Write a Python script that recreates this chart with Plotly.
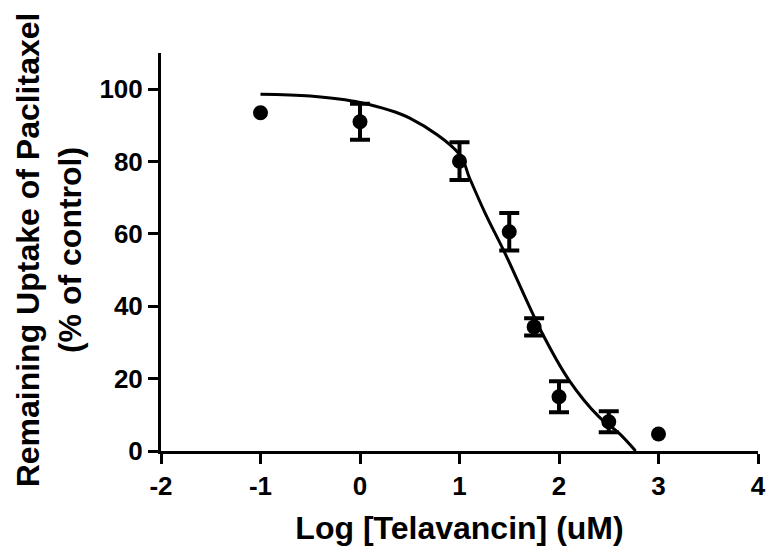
import plotly.graph_objects as go

# Data
log_conc = [-1.0, 0.0, 1.0, 1.5, 1.75, 2.0, 2.5, 3.0]
uptake = [93.5, 91.0, 80.1, 60.6, 34.3, 15.0, 8.1, 4.7]
sem = [None, 5.0, 5.2, 5.2, 2.4, 4.3, 2.9, None]

# Fitted curve, points
curve_x = [-1.0, -0.5, 0.0, 0.5, 1.0, 1.1, 1.26, 1.46, 1.83, 2.1, 2.4, 2.6, 2.77]
curve_y = [98.6, 98.1, 96.3, 92.0, 82.0, 75.5, 65.6, 54.5, 32.6, 19.6, 9.5, 5.0, 0.0]

x_ticks = [-2, -1, 0, 1, 2, 3, 4]
y_ticks = [0, 20, 40, 60, 80, 100]

FONT = "Arial, Liberation Sans, sans-serif"

ex = [x for x, e in zip(log_conc, sem) if e is not None]
ey = [y for y, e in zip(uptake, sem) if e is not None]
ee = [e for e in sem if e is not None]
nx = [x for x, e in zip(log_conc, sem) if e is None]
ny = [y for y, e in zip(uptake, sem) if e is None]

fig = go.Figure()
fig.add_trace(go.Scatter(x=curve_x, y=curve_y, mode="lines",
                         line=dict(color="black", width=3, shape="spline", smoothing=1.0),
                         hoverinfo="skip", showlegend=False))
fig.add_trace(go.Scatter(x=ex, y=ey, mode="markers",
                         marker=dict(color="black", size=15),
                         error_y=dict(type="data", array=ee, visible=True,
                                      color="black", thickness=4, width=10),
                         showlegend=False, cliponaxis=False))
fig.add_trace(go.Scatter(x=nx, y=ny, mode="markers",
                         marker=dict(color="black", size=15),
                         showlegend=False, cliponaxis=False))

axis_common = dict(showgrid=False, zeroline=False, showline=True, linecolor="black",
                   linewidth=3, ticks="outside", ticklen=10, tickwidth=3, tickcolor="black",
                   tickfont=dict(family=FONT, size=26, color="black", weight="bold"))

fig.update_xaxes(range=[-2, 4], tickvals=x_ticks, ticktext=[str(v) for v in x_ticks],
                 title=dict(text="<b>Log [Telavancin] (uM)</b>",
                            font=dict(family=FONT, size=32, color="black"), standoff=17),
                 **axis_common)
fig.update_yaxes(range=[0, 110], tickvals=y_ticks, ticktext=[str(v) for v in y_ticks],
                 **axis_common)

fig.add_annotation(text="<b>Remaining Uptake of Paclitaxel<br>(% of control)</b>",
                   xref="paper", yref="paper", x=-0.187, y=0.505,
                   xanchor="center", yanchor="middle", textangle=-90, showarrow=False,
                   font=dict(family=FONT, size=32, color="black"))

fig.update_layout(width=767, height=551, margin=dict(l=161, r=9, t=53, b=100, autoexpand=False),
                  plot_bgcolor="white", paper_bgcolor="white")

fig.write_html("out.html")
